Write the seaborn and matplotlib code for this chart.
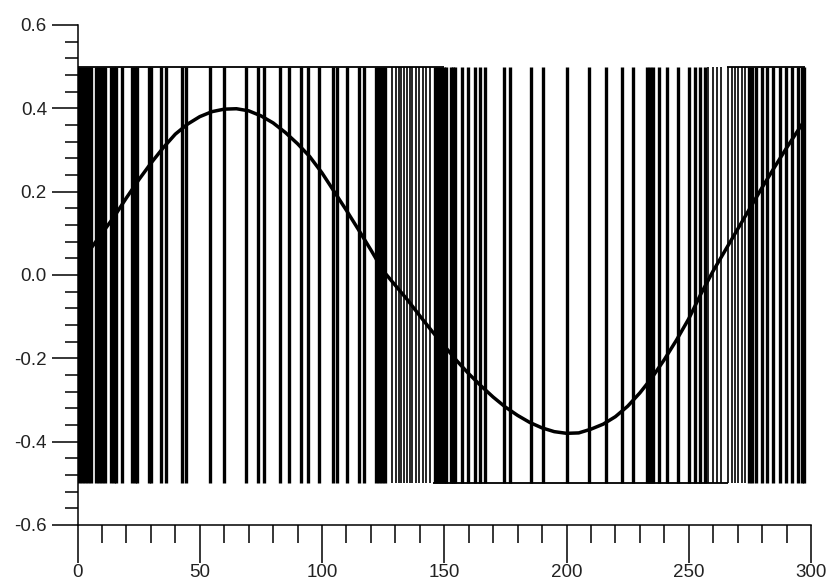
import numpy as np
import pandas as pd
import seaborn as sns
import matplotlib.pyplot as plt
from matplotlib.ticker import MultipleLocator, FormatStrFormatter

# curve
curve_x = [0, 5, 10, 15, 20, 25, 30, 35, 40, 45, 50, 55, 60, 65, 70, 75, 80, 85, 90, 95,
           100, 105, 110, 115, 120, 125, 130, 135, 140, 145, 150, 155, 160, 165, 170, 175,
           180, 185, 190, 195, 200, 205, 210, 215, 220, 225, 230, 235, 240, 245, 250, 255,
           260, 265, 270, 275, 280, 285, 290, 295, 297]
curve_y = [0.02, 0.06, 0.10, 0.14, 0.185, 0.228, 0.268, 0.305, 0.338, 0.362, 0.38, 0.392,
           0.398, 0.399, 0.394, 0.382, 0.365, 0.342, 0.315, 0.284, 0.245, 0.2, 0.155, 0.108,
           0.06, 0.01, -0.025, -0.06, -0.098, -0.135, -0.17, -0.205, -0.237, -0.266, -0.293,
           -0.317, -0.337, -0.354, -0.367, -0.376, -0.38, -0.379, -0.37, -0.358, -0.34,
           -0.315, -0.283, -0.246, -0.203, -0.156, -0.105, -0.045, 0.01, 0.06, 0.11, 0.16,
           0.21, 0.258, 0.305, 0.35, 0.368]

# pulse positions (thick bars)
pulses = [0.7, 1.9, 3.1, 4.3, 5.4, 7.7, 8.9, 10.1, 11.2, 13.8, 15.0, 15.7, 18.4,
          22.4, 23.6, 24.3, 29.4, 30.0, 34.2, 36.2, 42.6, 44.4, 54.0, 60.0, 69.0,
          73.8, 76.3, 82.7, 86.3, 91.4, 94.3, 98.7, 104.4, 106.2, 110.2, 115.0, 117.2,
          122.2, 123.4, 124.6, 125.8,
          146.1, 147.3, 148.5, 149.7, 150.6, 152.6, 153.6, 154.4, 157.2, 159.8, 162.7,
          164.5, 166.6, 174.5, 176.8, 185.6, 190.5, 200.0, 209.2, 216.2, 222.5, 227.3,
          233.1, 234.3, 235.5, 237.8, 241.0, 245.5, 250.2, 252.4, 254.4, 256.5,
          274.8, 276.0, 277.3, 279.8, 281.8, 284.6, 287.3, 289.8, 292.2, 294.5, 296.2, 297.2]

# thin transition lines
thin_lines = [128.8, 130.2, 131.4, 132.5, 133.6, 134.7, 135.8, 137.0, 138.4, 139.8,
              141.2, 142.6, 144.0,
              258.0, 259.8, 261.5, 263.0, 266.2, 267.5, 268.9, 270.2, 271.6, 272.8]

# resting levels
top_start = [0, 265.5]
top_end = [150, 297.6]
bottom_start = [145.3]
bottom_end = [266]
high, low = 0.5, -0.5

sns.set_style("ticks")
plt.rcParams['font.family'] = ['Liberation Sans', 'DejaVu Sans']
plt.rcParams['axes.unicode_minus'] = False

fig = plt.figure(figsize=(8.28, 5.81), dpi=100)
ax = fig.add_axes([0.0936, 0.0964, 0.8859, 0.8606])

ax.vlines(pulses, low, high, color='black', linewidth=2.4, zorder=1)
ax.vlines(thin_lines, low, high, color='black', linewidth=1.2, zorder=1)
ax.hlines([high] * len(top_start), top_start, top_end, color='black', linewidth=1.3, zorder=1)
ax.hlines([low] * len(bottom_start), bottom_start, bottom_end, color='black', linewidth=1.3, zorder=1)

df = pd.DataFrame({'x': curve_x, 'y': curve_y})
sns.lineplot(data=df, x='x', y='y', ax=ax, color='black', linewidth=2.5, zorder=3)

ax.set_xlim(0, 300)
ax.set_ylim(-0.6, 0.6)
ax.set_xlabel('')
ax.set_ylabel('')

ax.xaxis.set_major_locator(MultipleLocator(50))
ax.xaxis.set_minor_locator(MultipleLocator(10))
ax.yaxis.set_major_locator(MultipleLocator(0.2))
ax.yaxis.set_minor_locator(MultipleLocator(0.04))
ax.yaxis.set_major_formatter(FormatStrFormatter('%.1f'))

for s in ['top', 'right']:
    ax.spines[s].set_visible(False)
for s in ['left', 'bottom']:
    ax.spines[s].set_linewidth(1.1)
    ax.spines[s].set_color('black')

ax.tick_params(axis='x', which='both', bottom=True, direction='out', width=1.1, color='black')
ax.tick_params(axis='y', which='both', left=True, direction='out', width=1.1, color='black')
ax.tick_params(axis='x', which='major', length=27, pad=1, labelsize=13.5, labelcolor='#222222')
ax.tick_params(axis='x', which='minor', length=13)
ax.tick_params(axis='y', which='major', length=19, pad=3, labelsize=13.5, labelcolor='#222222')
ax.tick_params(axis='y', which='minor', length=9.5)

fig.savefig('out.png', dpi=100)
